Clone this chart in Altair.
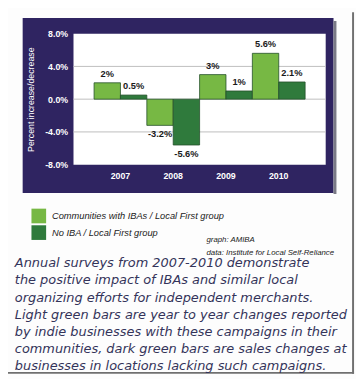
import altair as alt
import pandas as pd

years = ["2007", "2008", "2009", "2010"]
with_iba = [2.0, -3.2, 3.0, 5.6]
no_iba = [0.5, -5.6, 1.0, 2.1]
groups = ["Communities with IBAs / Local First group", "No IBA / Local First group"]
colors = ["#77b844", "#2f7a3c"]
y_ticks = [-8, -4, 0, 4, 8]
grid_vals = [-4, 0, 4]
caption_lines = [
    "Annual surveys from 2007-2010 demonstrate",
    "the positive impact of IBAs and similar local",
    "organizing efforts for independent merchants.",
    "Light green bars are year to year changes reported",
    "by indie businesses with these campaigns in their",
    "communities, dark green bars are sales changes at",
    "businesses in locations lacking such campaigns.",
]
credit_lines = ["graph:  AMIBA", "data: Institute for Local Self-Reliance"]

rows = []
for i, yr in enumerate(years):
    rows.append({"year": yr, "group": groups[0], "value": with_iba[i]})
    rows.append({"year": yr, "group": groups[1], "value": no_iba[i]})
df = pd.DataFrame(rows)
df["label"] = df["value"].map(lambda v: f"{v:g}%")

W, H = 258, 134
one = pd.DataFrame({"a": [0]})
yscale = alt.Scale(domain=[-8, 8], nice=False)
xscale = alt.Scale(paddingInner=0, paddingOuter=0.39)
YTITLE = "Percent increase/decrease"

x_axis = alt.Axis(labelColor="white", labelFont="Liberation Sans", labelFontWeight="bold",
                  labelFontSize=9, labelAngle=0, ticks=False, domain=False, grid=False,
                  labelPadding=7, zindex=1)
y_axis = alt.Axis(values=y_ticks, grid=False, ticks=False, domain=False,
                  labelOverlap=False, labelFlush=False,
                  labelColor="white", labelFont="Liberation Sans", labelFontWeight="bold",
                  labelFontSize=9, labelPadding=6,
                  labelExpr="(datum.value < 0 ? '-' : '') + format(abs(datum.value), '.1f') + '%'",
                  titleColor="white", titleFont="Liberation Sans", titleFontWeight="normal",
                  titleFontSize=9, titlePadding=9, zindex=1)

x_enc = alt.X("year:N", sort=years, title=None, scale=xscale, axis=x_axis)
y_enc = alt.Y("value:Q", scale=yscale, title=YTITLE, axis=y_axis)
xoff = alt.XOffset("group:N", sort=groups, scale=alt.Scale(paddingInner=0))

purple = alt.Chart(one).mark_rect(color="#2f2461").encode(
    x=alt.value(-52), x2=alt.value(266), y=alt.value(-16), y2=alt.value(163))
shadow = alt.Chart(one).mark_rect(color="#7a7a86").encode(
    x=alt.value(266), x2=alt.value(269), y=alt.value(-13), y2=alt.value(164))
white = alt.Chart(one).mark_rect(color="white").encode(
    x=alt.value(0), x2=alt.value(W), y=alt.value(0), y2=alt.value(H))
border_r = alt.Chart(one).mark_rect(color="#707070").encode(
    x=alt.value(285), x2=alt.value(287), y=alt.value(-22), y2=alt.value(348))
border_b = alt.Chart(one).mark_rect(color="#707070").encode(
    x=alt.value(-67), x2=alt.value(287), y=alt.value(346), y2=alt.value(348))

grid = alt.Chart(pd.DataFrame({"v": grid_vals})).mark_rule(color="#bdbdbd", strokeWidth=1).encode(
    y=alt.Y("v:Q", scale=yscale, title=YTITLE, axis=y_axis))

bars = alt.Chart(df).mark_bar(stroke="#24502a", strokeWidth=0.8).encode(
    x=x_enc, y=y_enc, xOffset=xoff,
    color=alt.Color("group:N", sort=groups,
                    scale=alt.Scale(domain=groups, range=colors),
                    legend=alt.Legend(title=None, orient="none", legendX=-43, legendY=179,
                                      symbolType="square", symbolSize=225, symbolStrokeWidth=0,
                                      labelFont="Liberation Sans", labelFontStyle="italic",
                                      labelFontSize=9.5, labelColor="#222222", labelOffset=6,
                                      rowPadding=2, padding=0, labelLimit=300)))

label_props = dict(font="Liberation Sans", fontWeight="bold", fontSize=9.5,
                   color="#1a1a1a", baseline="middle")
labels_pos = alt.Chart(df).transform_filter("datum.value >= 0").mark_text(dy=-9, **label_props).encode(
    x=x_enc, xOffset=xoff, y=y_enc, text="label:N")
labels_neg = alt.Chart(df).transform_filter("datum.value < 0").mark_text(dy=9, **label_props).encode(
    x=x_enc, xOffset=xoff, y=y_enc, text="label:N")

credits = alt.Chart(pd.DataFrame({"t": ["\n".join(credit_lines)]})).mark_text(
    font="Liberation Sans", fontStyle="italic", fontSize=8, color="#222222",
    align="left", baseline="alphabetic", lineBreak="\n", lineHeight=13).encode(
    x=alt.value(136), y=alt.value(213), text="t:N")

caption = alt.Chart(pd.DataFrame({"t": ["\n".join(caption_lines)]})).mark_text(
    font="DejaVu Sans", fontStyle="oblique", fontSize=13.2, color="#34345a",
    align="left", baseline="alphabetic", lineBreak="\n", lineHeight=17.5).encode(
    x=alt.value(-60), y=alt.value(239), text="t:N")

chart = alt.layer(purple, shadow, white, border_r, border_b, grid, bars, labels_pos, labels_neg,
                  credits, caption).properties(
    width=W, height=H, autosize="none",
    padding={"left": 67, "top": 22, "right": 31, "bottom": 215},
    background="#fdfdfd",
).configure_view(stroke=None)

chart.save("out.html", embed_options={"renderer": "svg", "actions": False})
